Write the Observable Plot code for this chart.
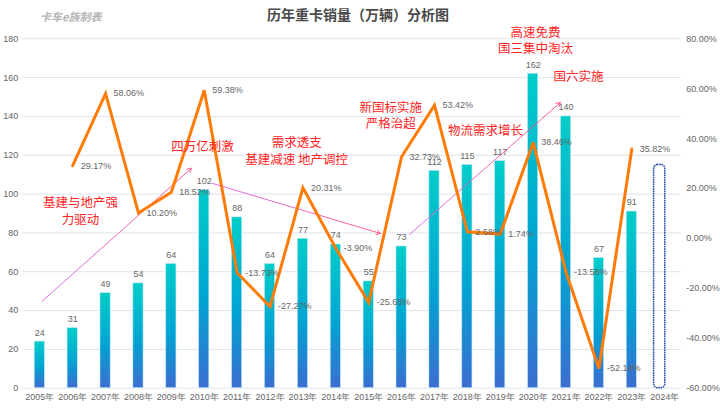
<!DOCTYPE html>
<html>
<head>
<meta charset="utf-8">
<script src="https://cdn.jsdelivr.net/npm/d3@7"></script>
<script src="https://cdn.jsdelivr.net/npm/@observablehq/plot@0.6"></script>
<style>
  html, body { margin: 0; padding: 0; background: #fff; }
  #wrap { position: relative; width: 720px; height: 410px; overflow: hidden; }
  #title { position: absolute; left: 0; width: 716px; top: 4px; text-align: center;
    font-family: "Noto Sans CJK SC", sans-serif; font-size: 14px; font-weight: bold; color: #4a4a4a; }
  #mark { position: absolute; left: 40px; top: 8px; font-family: "Noto Sans CJK SC", sans-serif;
    font-size: 11px; font-weight: bold; font-style: italic; color: #b5b5b5; }
</style>
</head>
<body>
<div id="wrap">
  <div id="chart"></div>
  <div id="title">历年重卡销量（万辆）分析图</div>
  <div id="mark">卡车e族制表</div>
</div>
<script>
// ---- data ----
const years = [2005, 2006, 2007, 2008, 2009, 2010, 2011, 2012, 2013, 2014, 2015, 2016, 2017, 2018, 2019, 2020, 2021, 2022, 2023];
const sales = [24, 31, 49, 54, 64, 102, 88, 64, 77, 74, 55, 73, 112, 115, 117, 162, 140, 67, 91];
const growthYears = [2006, 2007, 2008, 2009, 2010, 2011, 2012, 2013, 2014, 2015, 2016, 2017, 2018, 2019, 2020, 2021, 2022, 2023];
const growth = [29.17, 58.06, 10.20, 18.52, 59.38, -13.73, -27.27, 20.31, -3.90, -25.68, 32.73, 53.42, 2.68, 1.74, 38.46, -13.58, -52.14, 35.82];
const forecastYear = [2024];
const forecastValue = [115];
const leftTicks = [0, 20, 40, 60, 80, 100, 120, 140, 160, 180];
const rightTicks = [-60, -40, -20, 0, 20, 40, 60, 80];
const xTickYears = [2005, 2006, 2007, 2008, 2009, 2010, 2011, 2012, 2013, 2014, 2015, 2016, 2017, 2018, 2019, 2020, 2021, 2022, 2023, 2024];
const noteTexts = ["基建与地产强\n力驱动", "四万亿刺激", "需求透支\n基建减速 地产调控", "新国标实施\n严格治超", "物流需求增长", "高速免费\n国三集中淘汰", "国六实施"];
const noteX = [2006.24, 2009.95, 2012.81, 2015.67, 2018.55, 2020.07, 2021.38];
const noteY = [91.6, 124.7, 122.6, 140.8, 133.3, 179.4, 161.1];
const arrowX1 = [2005.07, 2010.25, 2016.24];
const arrowY1 = [44.8, 105.5, 79.2];
const arrowX2 = [2009.61, 2015.36, 2020.83];
const arrowY2 = [113.3, 79.7, 147.2];

// percent axis (right) mapped onto the left value scale
const pMin = -60, pMax = 80, vMax = 180;
const toY = p => (p - pMin) * vMax / (pMax - pMin);
const fromY = v => v * (pMax - pMin) / vMax + pMin;

const bars = years.map((y, i) => ({year: y, value: sales[i]}));
const rates = growthYears.map((y, i) => ({year: y, pct: growth[i]}));
const forecast = forecastYear.map((y, i) => ({year: y, value: forecastValue[i]}));
const notes = noteTexts.map((t, i) => ({text: t, x: noteX[i], y: noteY[i]}));
const arrows = arrowX1.map((x, i) => ({x1: x, y1: arrowY1[i], x2: arrowX2[i], y2: arrowY2[i]}));

const half = 0.155;
const labelFont = "Liberation Sans, Arial, sans-serif";

const chart = Plot.plot({
  width: 720,
  height: 410,
  marginLeft: 22.85,
  marginRight: 39.35,
  marginTop: 38.3,
  marginBottom: 22.3,
  style: {fontFamily: labelFont, fontSize: "9px", color: "#666", background: "transparent"},
  x: {type: "linear", domain: [2004.5, 2024.5]},
  y: {domain: [0, 180]},
  marks: [
    Plot.gridY(leftTicks, {stroke: "#dfe4ec", strokeOpacity: 1, strokeWidth: 1}),
    Plot.axisY({ticks: leftTicks, tickSize: 0, tickPadding: 5, label: null, fill: "#666", fontSize: 9}),
    Plot.axisY({anchor: "right", ticks: rightTicks.map(toY), tickSize: 0, tickPadding: 5, label: null,
      tickFormat: v => Math.round(fromY(v)).toFixed(2) + "%", fill: "#666", fontSize: 9}),
    Plot.axisX({ticks: xTickYears, tickSize: 0, tickPadding: 5, label: null,
      tickFormat: d => d + "年", fill: "#666", fontSize: 9}),
    Plot.rect(bars, {x1: d => d.year - half, x2: d => d.year + half, y1: 0, y2: "value",
      fill: "url(#barGrad)", stroke: "#bfeaf2", strokeWidth: 0.6}),
    Plot.rect(forecast, {x1: d => d.year - 0.17, x2: d => d.year + 0.17, y1: 0, y2: "value", dx: -5,
      fill: "none", stroke: "#3558b0", strokeWidth: 1.8, strokeDasharray: "0.1 2.2", strokeLinecap: "round", rx: 4}),
    Plot.text(bars, {x: "year", y: "value", text: d => String(d.value), dy: -9, fill: "#666", fontSize: 9}),
    Plot.arrow(arrows, {x1: "x1", y1: "y1", x2: "x2", y2: "y2", stroke: "url(#arrowGrad)", strokeWidth: 1, headLength: 7, bend: 0}),
    Plot.line(rates, {x: "year", y: d => toY(d.pct), stroke: "#ff7b08", strokeWidth: 3, strokeLinejoin: "miter", strokeMiterlimit: 3}),
    Plot.text(rates, {x: "year", y: d => toY(d.pct), text: d => d.pct.toFixed(2) + "%", dx: 8, textAnchor: "start", fill: "#666", fontSize: 9}),
    Plot.text(notes, {x: "x", y: "y", text: "text", fill: "#ff2424", fontSize: 12.5, lineHeight: 1.3,
      fontFamily: "Noto Sans CJK SC, sans-serif"})
  ]
});

const ns = "http://www.w3.org/2000/svg";
const defs = document.createElementNS(ns, "defs");
defs.innerHTML = `
  <linearGradient id="barGrad" x1="0" y1="0" x2="0" y2="1">
    <stop offset="0" stop-color="#00cdc9"/>
    <stop offset="0.55" stop-color="#00a4d2"/>
    <stop offset="1" stop-color="#3c6dd0"/>
  </linearGradient>
  <linearGradient id="arrowGrad" x1="0" y1="0" x2="1" y2="0">
    <stop offset="0" stop-color="#dd70ee"/>
    <stop offset="1" stop-color="#ff5a8c"/>
  </linearGradient>`;
chart.insertBefore(defs, chart.firstChild);
document.getElementById("chart").appendChild(chart);
</script>
</body>
</html>
